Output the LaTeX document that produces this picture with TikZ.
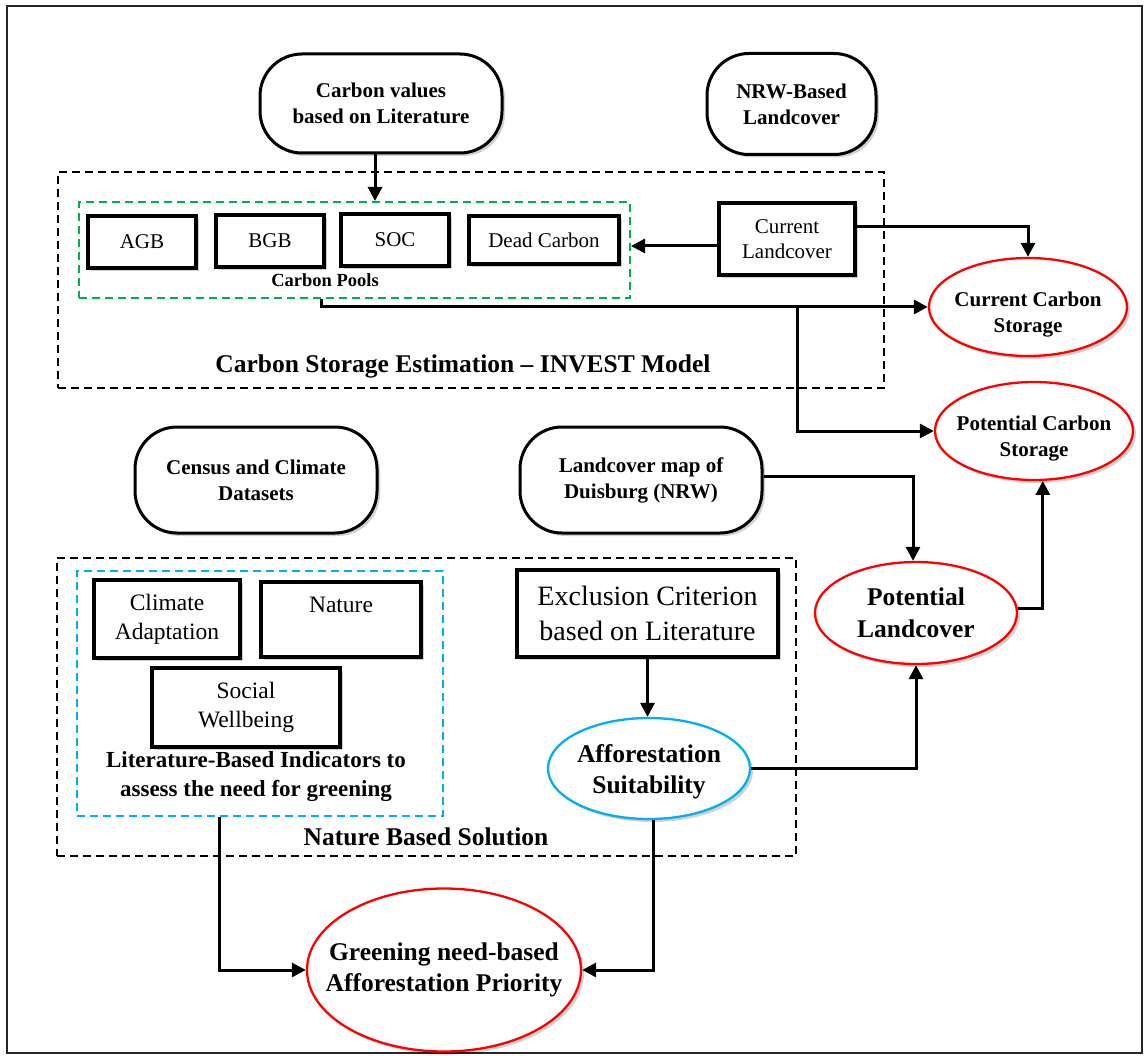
\documentclass[tikz,border=0pt]{standalone}
\usepackage{fontspec}
\setmainfont{Liberation Serif}
\usetikzlibrary{arrows.meta,shadows,shapes.geometric,calc}
\begin{document}
\begin{tikzpicture}[x=1pt,y=-1pt,
  shad/.style={drop shadow={shadow xshift=3pt,shadow yshift=-3pt,fill=black,opacity=0.18}},
  stad/.style={draw,line width=3pt,rounded corners=42pt,fill=white,align=center,inner sep=0pt,
    font=\bfseries\fontsize{21}{26}\selectfont,shad},
  box/.style={draw,line width=3.4pt,fill=white,align=center,inner sep=0pt,
    font=\fontsize{21}{25}\selectfont,shad},
  bigbox/.style={box,font=\fontsize{23.5}{29}\selectfont},
  ell/.style={draw=red,ellipse,line width=2.3pt,fill=white,align=center,inner sep=-40pt,
    font=\bfseries\fontsize{21}{26}\selectfont,shad},
  dbox/.style={draw,dash pattern=on 8pt off 5pt,line width=2pt,inner sep=0pt},
  arr/.style={line width=3pt,-{Triangle[length=14pt,width=14pt]}},
  lbl/.style={font=\bfseries\fontsize{25.5}{31}\selectfont,align=center,inner sep=0pt}
]
\useasboundingbox (0,0) rectangle (1145,1056);
\draw[line width=2.5pt,black!85] (7,6) rectangle (1142,1053);

% dashed groups
\node[dbox,minimum width=826,minimum height=216] (d1) at (471,280) {};
\node[dbox,draw={rgb,255:red,0;green,176;blue,80},minimum width=551,minimum height=96] (green) at (354.5,250) {};
\node[dbox,minimum width=739,minimum height=298] (d2) at (426.5,707) {};
\node[dbox,draw={rgb,255:red,0;green,176;blue,240},minimum width=366,minimum height=245] (blue) at (260,693.5) {};

% top nodes
\node[stad,minimum width=242,minimum height=99] (cv) at (381,103.5) {Carbon values\\based on Literature};
\node[stad,minimum width=169,minimum height=101] (nrw) at (791.5,104) {NRW-Based\\Landcover};

% carbon pools
\node[box,minimum width=108,minimum height=52] (agb) at (142,242) {AGB};
\node[box,minimum width=108,minimum height=52] (bgb) at (270,241) {BGB};
\node[box,minimum width=108,minimum height=52] (soc) at (395,240) {SOC};
\node[box,minimum width=150,minimum height=48] (dead) at (544,240) {Dead Carbon};
\node[font=\bfseries\fontsize{18.5}{22}\selectfont,inner sep=0pt] (pools) at (325,280) {Carbon Pools};
\node[box,minimum width=136,minimum height=72] (curlc) at (787,239) {Current\\Landcover};
\node[lbl] (cse) at (463,366) {Carbon Storage Estimation -- INVEST Model};

% storage ellipses
\node[ell,minimum width=198,minimum height=98] (ccs) at (1028,307) {\rule{0pt}{29pt}Current Carbon\\Storage};
\node[ell,minimum width=198,minimum height=98] (pcs) at (1034,431) {\rule{0pt}{29pt}Potential Carbon\\Storage};

% middle
\node[stad,minimum width=242,minimum height=106] (cens) at (256,480) {Census and Climate\\Datasets};
\node[stad,minimum width=242,minimum height=106] (lmap) at (641,480) {Landcover map of\\Duisburg (NRW)};

% nature based solution
\node[bigbox,minimum width=146,minimum height=78] (clim) at (167,619) {Climate\\Adaptation};
\node[bigbox,minimum width=160,minimum height=75] (nat) at (341,619.5) {Nature\\\mbox{}};
\node[bigbox,minimum width=188,minimum height=79] (soc2) at (246,707.5) {Social\\Wellbeing};
\node[font=\bfseries\fontsize{23}{29}\selectfont,align=center,inner sep=0pt] (lit) at (256,777) {Literature-Based Indicators to\\assess the need for greening};
\node[box,font=\fontsize{28}{35}\selectfont,minimum width=261,minimum height=87] (excl) at (647.5,613.5) {Exclusion Criterion\\based on Literature};
\node[ell,draw={rgb,255:red,0;green,176;blue,240},font=\bfseries\fontsize{25.5}{31}\selectfont,minimum width=202,minimum height=101] (aff) at (649,768.5) {\rule{0pt}{24pt}Afforestation\\Suitability};
\node[ell,font=\bfseries\fontsize{25.5}{32}\selectfont,minimum width=202,minimum height=102] (plc) at (916,613) {Potential\\Landcover};
\node[lbl] (nbs) at (426,837) {Nature Based Solution};
\node[ell,inner sep=-60pt,font=\bfseries\fontsize{25.5}{31}\selectfont,minimum width=274,minimum height=163] (gnp) at (444,970) {Greening need-based\\Afforestation Priority};

% connectors
\coordinate (br) at (797.5,307);
\draw[arr] ([xshift=-6pt]cv.south) -- ([xshift=-6pt]cv.south |- green.north);
\draw[arr] ([yshift=-7pt]curlc.west) -- ([yshift=-7pt]curlc.west -| green.east);
\draw[arr] ([yshift=12pt]curlc.east) -| (ccs.north);
\draw[arr] ([xshift=-33.5pt]green.south) |- (ccs.west);
\draw[arr] (br) |- (pcs.west);
\draw[arr] ([yshift=4pt]lmap.east) -| ([xshift=-3pt]plc.north);
\draw[arr] (aff.east) -| (plc.south);
\draw[arr] ([yshift=5pt]plc.east) -| (pcs.-80);
\draw[arr] (excl.south) -- (excl.south |- aff.north);
\draw[arr] ([xshift=-41pt]blue.south) |- (gnp.west);
\draw[arr] ([xshift=4pt]aff.south) |- (gnp.east);
\end{tikzpicture}
\end{document}
